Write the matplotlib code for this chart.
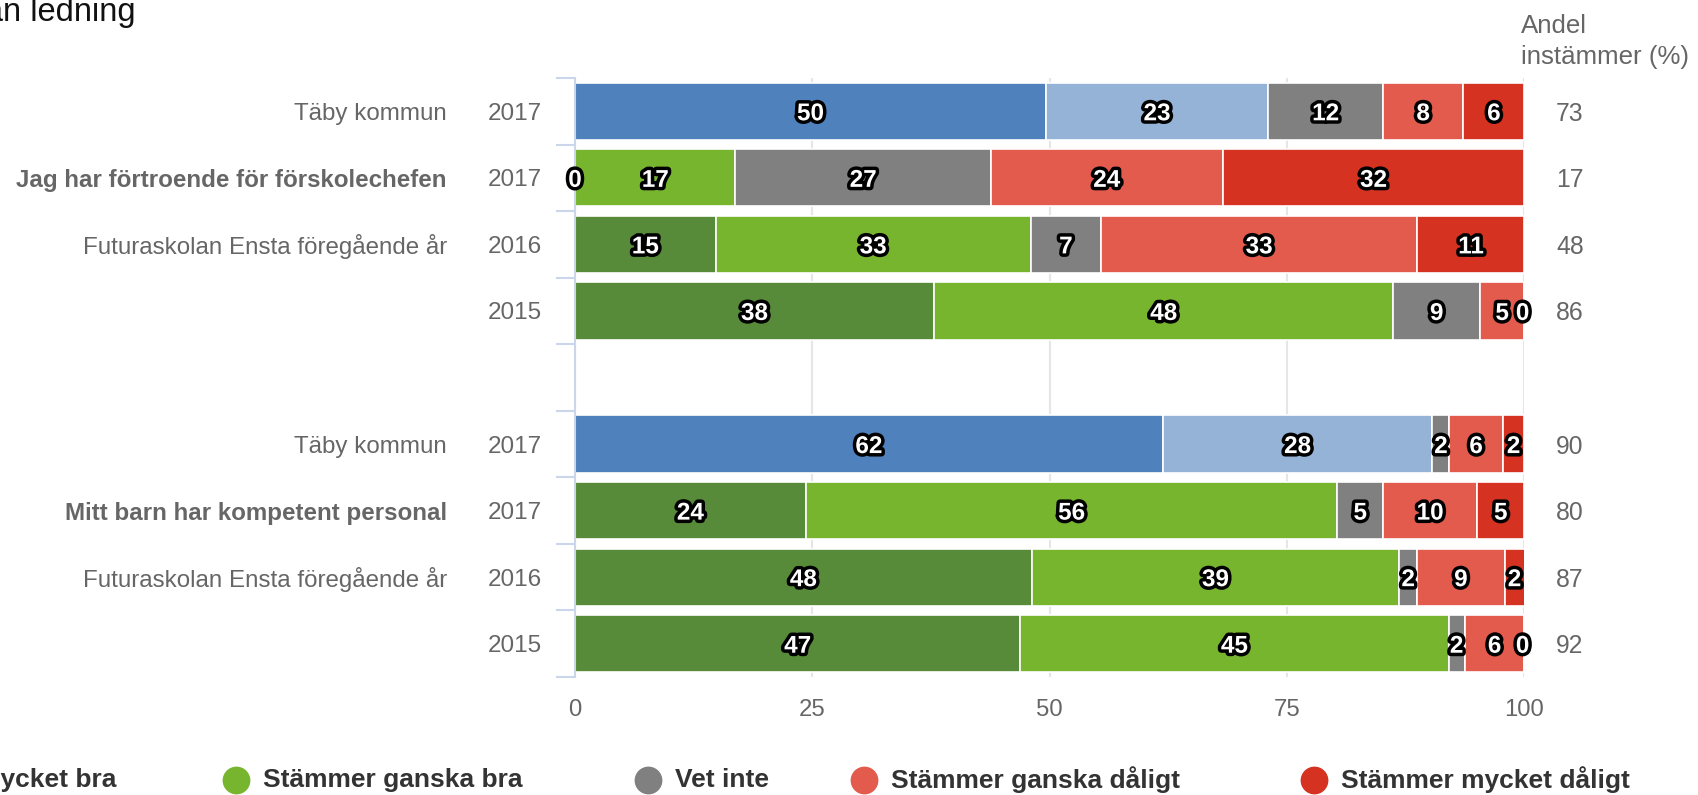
import matplotlib
matplotlib.use("Agg")
import matplotlib.pyplot as plt
import matplotlib.patheffects as pe
from matplotlib.lines import Line2D
from matplotlib.transforms import blended_transform_factory
import numpy as np

plt.rcParams["font.family"] = ["Liberation Sans", "DejaVu Sans"]

# === Data === #
series = ["Stämmer mycket bra", "Stämmer ganska bra", "Vet inte",
          "Stämmer ganska dåligt", "Stämmer mycket dåligt"]

row_names = ["Täby kommun", "Jag har förtroende för förskolechefen",
             "Futuraskolan Ensta föregående år", "",
             "Täby kommun", "Mitt barn har kompetent personal",
             "Futuraskolan Ensta föregående år", ""]
row_years = ["2017", "2017", "2016", "2015", "2017", "2017", "2016", "2015"]
row_bold = [False, True, False, False, False, True, False, False]
row_taby = [True, False, False, False, True, False, False, False]

values = [
    [49.6, 23.4, 12.1, 8.45, 6.45],
    [0.0, 16.9, 26.9, 24.4, 31.8],
    [14.8, 33.2, 7.4, 33.3, 11.3],
    [37.8, 48.4, 9.1, 4.7, 0.0],
    [61.9, 28.4, 1.8, 5.6, 2.3],
    [24.3, 56.0, 4.8, 9.9, 5.0],
    [48.1, 38.7, 1.9, 9.2, 2.1],
    [46.9, 45.1, 1.7, 6.3, 0.0],
]
x_ticks = [0, 25, 50, 75, 100]

colors = ["#588b39", "#78b52f", "#808080", "#e35b4c", "#d63221"]
taby_colors = ["#4f81bd", "#95b3d7"]

# rows 0-3, gap, rows 5-8
y_pos = [0, 1, 2, 3, 5, 6, 7, 8]

W, H = 1699, 795
fig = plt.figure(figsize=(W / 100, H / 100), dpi=100)
ax = fig.add_axes([575 / W, 1 - 677 / H, (1524.5 - 575) / W, (677 - 78) / H])

outline = [pe.withStroke(linewidth=5, foreground="black")]

for y, vals, taby in zip(y_pos, values, row_taby):
    left = 0
    for i, v in enumerate(vals):
        c = taby_colors[i] if (taby and i < 2) else colors[i]
        ax.barh(y, v, left=left, height=0.86, color=c, edgecolor="white", linewidth=1.2, zorder=2)
        cx = left + v / 2
        if v == 0 and left > 50:
            cx = left - 0.2
        ax.text(cx, y, f"{v:.0f}", ha="center", va="center_baseline", color="white",
                fontsize=17.5, fontweight="bold", path_effects=outline, zorder=4)
        left += v

ax.set_xlim(0, 100)
ax.set_ylim(8.5, -0.5)
ax.set_xticks(x_ticks)
ax.set_xticklabels([str(t) for t in x_ticks])
ax.tick_params(axis="x", length=0, labelsize=17.2, labelcolor="#666666", pad=16)
ax.set_yticks(np.arange(-0.5, 9, 1))
ax.set_yticklabels([])
ax.tick_params(axis="y", length=14, width=1.5, color="#ccd6eb")
ax.xaxis.grid(True, color="#e6e6e6", linewidth=1.5)
ax.set_axisbelow(True)
for s in ["top", "right", "bottom"]:
    ax.spines[s].set_visible(False)
ax.spines["left"].set_color("#ccd6eb")
ax.spines["left"].set_linewidth(1.5)

# row labels
tr = blended_transform_factory(fig.transFigure, ax.transData)
for y, name, year, bold, vals in zip(y_pos, row_names, row_years, row_bold, values):
    ax.text(447 / W, y, name, transform=tr, ha="right", va="center_baseline", fontsize=17.4,
            color="#666666", fontweight="bold" if bold else "normal")
    ax.text(542 / W, y, year, transform=tr, ha="right", va="center_baseline", fontsize=17.5,
            color="#666666")
    ax.text(1556 / W, y, f"{vals[0] + vals[1]:.0f}", transform=tr, ha="left",
            va="center_baseline", fontsize=17.8, color="#666666")

fig.text(1521 / W, 1 - 33.3 / H, "Andel", ha="left", va="baseline", fontsize=18.6, color="#666666")
fig.text(1521 / W, 1 - 64.3 / H, "instämmer (%)", ha="left", va="baseline", fontsize=18.6,
         color="#666666")

# title (cut off at left edge, as in the source)
fig.text(135.5 / W, 1 - 21 / H, "Förskolan ledning", ha="right", va="baseline",
         fontsize=23.5, color="#111111")

# legend
legend_x = [-170, 236, 648, 864, 1314]
ly = 1 - 780 / H
for x, name, c in zip(legend_x, series, colors):
    fig.add_artist(Line2D([x / W], [ly], marker="o", markersize=19, color=c,
                          linestyle="none", transform=fig.transFigure))
    fig.text((x + 27) / W, ly, name, ha="left", va="center", fontsize=19,
             fontweight="bold", color="#333333")

fig.savefig("out.png", dpi=100)
